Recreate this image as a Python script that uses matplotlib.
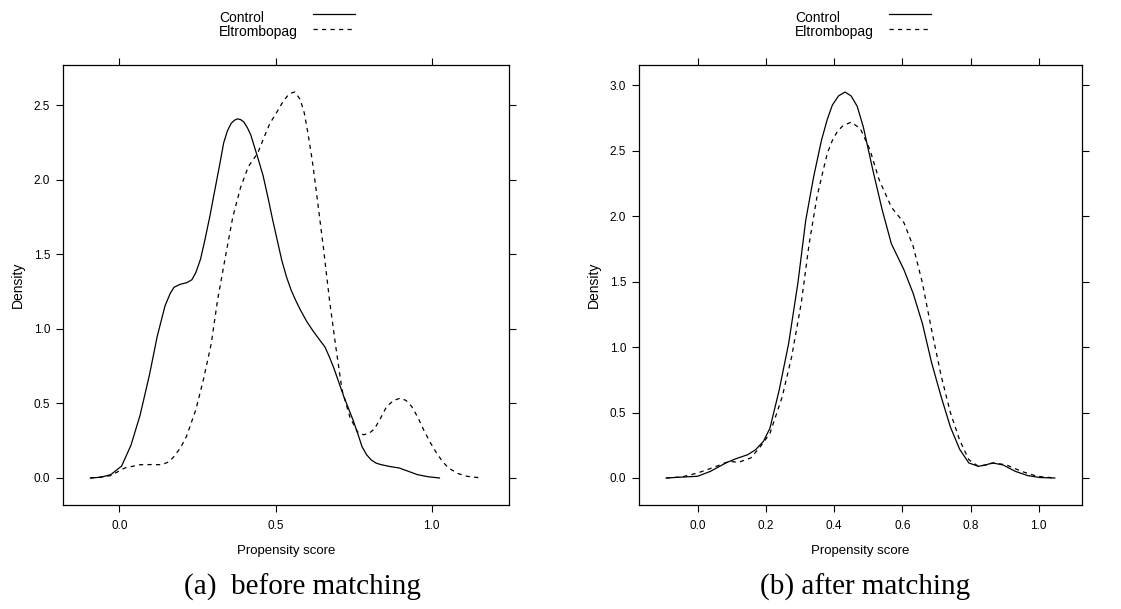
import matplotlib
import numpy as np

matplotlib.use("Agg")
import matplotlib.pyplot as plt  # noqa: E402

plt.rcParams.update({"font.family": ["Liberation Sans", "DejaVu Sans"],
                     "axes.linewidth": 0.9})

# (a) before matching -- density of propensity score
a_ctrl_x = [-0.093, -0.06, -0.028, 0.007, 0.037, 0.066, 0.096, 0.121, 0.146, 0.163,
            0.175, 0.195, 0.215, 0.232, 0.245, 0.26, 0.274, 0.29, 0.304, 0.32,
            0.334, 0.346, 0.358, 0.368, 0.378, 0.388, 0.398, 0.41, 0.421, 0.443,
            0.46, 0.477, 0.49, 0.505, 0.52, 0.535, 0.55, 0.565, 0.579, 0.6, 0.619,
            0.64, 0.658, 0.673, 0.688, 0.703, 0.718, 0.733, 0.748, 0.763, 0.777,
            0.792, 0.807, 0.822, 0.837, 0.866, 0.896, 0.925, 0.955, 0.99, 1.025]
a_ctrl_y = [0.0, 0.005, 0.022, 0.08, 0.22, 0.42, 0.69, 0.95, 1.155, 1.24,
            1.28, 1.30, 1.31, 1.33, 1.38, 1.47, 1.60, 1.76, 1.915, 2.09,
            2.25, 2.33, 2.38, 2.40, 2.41, 2.405, 2.39, 2.35, 2.30, 2.15,
            2.03, 1.87, 1.74, 1.60, 1.46, 1.35, 1.26, 1.19, 1.13, 1.05, 0.99,
            0.93, 0.88, 0.81, 0.73, 0.64, 0.55, 0.47, 0.39, 0.30, 0.21,
            0.155, 0.12, 0.10, 0.09, 0.077, 0.067, 0.045, 0.022, 0.008, 0.0]
a_elt_x = [-0.093, -0.05, -0.028, 0.017, 0.066, 0.10, 0.136, 0.16, 0.175, 0.195,
           0.215, 0.245, 0.269, 0.294, 0.314, 0.339, 0.363, 0.388, 0.413, 0.443,
           0.46, 0.482, 0.5, 0.525, 0.545, 0.562, 0.579, 0.592, 0.604, 0.617,
           0.629, 0.641, 0.653, 0.673, 0.693, 0.713, 0.738, 0.762, 0.782, 0.80,
           0.817, 0.836, 0.856, 0.878, 0.90, 0.918, 0.936, 0.955, 0.975, 0.995,
           1.015, 1.035, 1.054, 1.084, 1.114, 1.16]
a_elt_y = [0.0, 0.008, 0.016, 0.067, 0.089, 0.09, 0.089, 0.11, 0.145, 0.20,
           0.28, 0.46, 0.66, 0.90, 1.19, 1.48, 1.75, 1.95, 2.09, 2.18,
           2.27, 2.38, 2.44, 2.53, 2.58, 2.59, 2.54, 2.45, 2.31, 2.14,
           1.95, 1.75, 1.55, 1.19, 0.88, 0.59, 0.41, 0.31, 0.29, 0.30,
           0.33, 0.40, 0.48, 0.52, 0.536, 0.52, 0.48, 0.41, 0.32, 0.24,
           0.17, 0.11, 0.067, 0.03, 0.011, 0.0]

# (b) after matching
b_ctrl_x = [-0.092, -0.037, 0.0, 0.037, 0.083, 0.11, 0.147, 0.17, 0.193, 0.212,
            0.239, 0.267, 0.294, 0.317, 0.34, 0.363, 0.38, 0.395, 0.413, 0.432,
            0.45, 0.468, 0.486, 0.514, 0.541, 0.568, 0.605, 0.632, 0.659, 0.686,
            0.714, 0.741, 0.768, 0.795, 0.823, 0.845, 0.864, 0.895, 0.932, 0.968,
            1.005, 1.047]
b_ctrl_y = [0.0, 0.008, 0.013, 0.05, 0.115, 0.145, 0.178, 0.216, 0.28, 0.38,
            0.67, 1.03, 1.49, 1.97, 2.30, 2.58, 2.74, 2.85, 2.92, 2.95,
            2.92, 2.84, 2.68, 2.35, 2.05, 1.79, 1.59, 1.41, 1.18, 0.88,
            0.62, 0.39, 0.22, 0.115, 0.089, 0.10, 0.115, 0.10, 0.05, 0.018,
            0.003, 0.0]
b_elt_x = [-0.092, -0.046, 0.0, 0.046, 0.092, 0.12, 0.156, 0.184, 0.212, 0.248,
           0.276, 0.304, 0.327, 0.35, 0.368, 0.38, 0.395, 0.41, 0.425, 0.45,
           0.477, 0.505, 0.532, 0.568, 0.605, 0.632, 0.659, 0.686, 0.714, 0.741,
           0.768, 0.795, 0.823, 0.845, 0.868, 0.905, 0.95, 0.995, 1.047]
b_elt_y = [0.0, 0.008, 0.038, 0.08, 0.127, 0.12, 0.153, 0.24, 0.34, 0.62,
           0.93, 1.34, 1.79, 2.15, 2.35, 2.48, 2.58, 2.65, 2.69, 2.72,
           2.67, 2.51, 2.28, 2.07, 1.95, 1.77, 1.49, 1.13, 0.78, 0.50,
           0.29, 0.14, 0.089, 0.10, 0.115, 0.10, 0.05, 0.013, 0.0]

groups = ["Control", "Eltrombopag"]
a_xticks = [0.0, 0.5, 1.0]
b_xticks = [0.0, 0.2, 0.4, 0.6, 0.8, 1.0]
a_yticks = [0.0, 0.5, 1.0, 1.5, 2.0, 2.5]
b_yticks = [0.0, 0.5, 1.0, 1.5, 2.0, 2.5, 3.0]
captions = ["(a)  before matching", "(b) after matching"]

DASH = (0, (3.4, 3.4))


def lattice_lim(*arrs):
    lo = min(min(a) for a in arrs)
    hi = max(max(a) for a in arrs)
    d = 0.07 * (hi - lo)
    return lo - d, hi + d


def panel(ax, cx, cy, ex, ey, xt, yt):
    ax.plot(cx, cy, color="black", lw=0.9)
    ax.plot(ex, ey, color="black", lw=0.9, ls=DASH)
    ax.set_xlim(*lattice_lim(cx, ex))
    ax.set_ylim(*lattice_lim(cy, ey))
    ax.set_xticks(xt)
    ax.set_yticks(yt)
    ax.xaxis.set_major_formatter(matplotlib.ticker.FormatStrFormatter("%.1f"))
    ax.yaxis.set_major_formatter(matplotlib.ticker.FormatStrFormatter("%.1f"))
    ax.tick_params(direction="out", length=4.8, width=0.8, labelsize=8.5,
                   top=True, right=True, labeltop=False, labelright=False)
    ax.tick_params(axis="x", pad=6)
    ax.tick_params(axis="y", pad=4.5)
    ax.set_xlabel("Propensity score", fontsize=9.5, va="center")
    ax.set_ylabel("Density", fontsize=10, va="center")
    w_px = ax.get_position().width * 1121
    h_px = ax.get_position().height * 609
    ax.xaxis.set_label_coords(0.5, -46 / h_px)
    ax.yaxis.set_label_coords(-45 / w_px, 0.5)
    # key above the panel: labels on the left, line samples on the right
    for lab, ls, yt_, yl in zip(groups, ["-", DASH], [1.098, 1.065], [1.116, 1.081]):
        ax.text(156 / w_px, yt_, lab, transform=ax.transAxes, fontsize=10,
                ha="left", va="baseline")
        ax.plot([250 / w_px, 292 / w_px], [yl, yl], transform=ax.transAxes,
                color="black", lw=0.9, ls=ls, clip_on=False)


fig = plt.figure(figsize=(11.21, 6.09), dpi=100)
ax_a = fig.add_axes([63 / 1121, 104 / 609, 446 / 1121, 440 / 609])
ax_b = fig.add_axes([639 / 1121, 104 / 609, 443 / 1121, 440 / 609])
panel(ax_a, a_ctrl_x, a_ctrl_y, a_elt_x, a_elt_y, a_xticks, a_yticks)
panel(ax_b, b_ctrl_x, b_ctrl_y, b_elt_x, b_elt_y, b_xticks, b_yticks)

for cx, cap in zip([302, 865], captions):
    fig.text(cx / 1121, 1 - 587 / 609, cap, ha="center", va="center",
             fontsize=21, family=["Liberation Serif", "DejaVu Serif"])

fig.savefig("out.png", dpi=100)
